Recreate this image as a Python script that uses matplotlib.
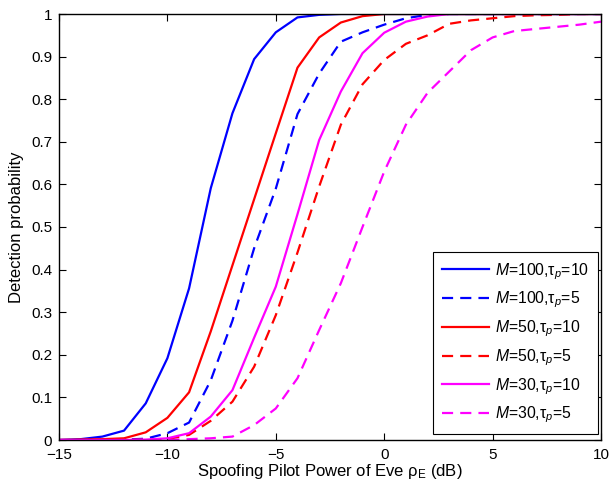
import matplotlib
matplotlib.use("Agg")
import matplotlib.pyplot as plt

plt.rcParams['font.family'] = ['Liberation Sans', 'DejaVu Sans']
plt.rcParams['mathtext.fontset'] = 'custom'
plt.rcParams['mathtext.rm'] = 'Liberation Sans'
plt.rcParams['mathtext.it'] = 'Liberation Sans:italic'

snr_db = list(range(-15, 11))

m100_t10 = [0, 0.002, 0.008, 0.022, 0.086, 0.192, 0.356, 0.591, 0.767, 0.894, 0.957, 0.992, 0.998,
            1, 1, 1, 1, 1, 1, 1, 1, 1, 1, 1, 1, 1]
m100_t5 = [0, 0, 0, 0.001, 0.003, 0.016, 0.041, 0.14, 0.28, 0.45, 0.59, 0.765, 0.86, 0.935,
           0.957, 0.975, 0.99, 0.998, 1, 1, 1, 1, 1, 1, 1, 1]
m50_t10 = [0, 0.001, 0.002, 0.004, 0.018, 0.052, 0.112, 0.255, 0.41, 0.565, 0.72, 0.874, 0.945,
           0.98, 0.995, 1, 1, 1, 1, 1, 1, 1, 1, 1, 1, 1]
m50_t5 = [0, 0, 0, 0, 0.001, 0.002, 0.012, 0.045, 0.09, 0.172, 0.293, 0.44, 0.595, 0.74, 0.835,
          0.892, 0.93, 0.95, 0.977, 0.985, 0.99, 0.995, 0.997, 0.998, 1, 1]
m30_t10 = [0, 0, 0, 0, 0.001, 0.004, 0.016, 0.055, 0.117, 0.24, 0.36, 0.53, 0.704, 0.818, 0.908,
           0.956, 0.982, 0.994, 1, 1, 1, 1, 1, 1, 1, 1]
m30_t5 = [0, 0, 0, 0, 0, 0, 0.002, 0.004, 0.008, 0.035, 0.074, 0.145, 0.258, 0.368, 0.50, 0.63,
          0.74, 0.815, 0.865, 0.915, 0.945, 0.96, 0.965, 0.97, 0.975, 0.982]

series = [
    (m100_t10, 'blue', '-', r'$M$=100,$\mathrm{\tau}_p$=10'),
    (m100_t5, 'blue', '--', r'$M$=100,$\mathrm{\tau}_p$=5'),
    (m50_t10, 'red', '-', r'$M$=50,$\mathrm{\tau}_p$=10'),
    (m50_t5, 'red', '--', r'$M$=50,$\mathrm{\tau}_p$=5'),
    (m30_t10, 'magenta', '-', r'$M$=30,$\mathrm{\tau}_p$=10'),
    (m30_t5, 'magenta', '--', r'$M$=30,$\mathrm{\tau}_p$=5'),
]

fig = plt.figure(figsize=(6.11, 4.87), dpi=100)
ax = fig.add_axes([59/611, 47/487, 542/611, 426/487])

for y, c, ls, lab in series:
    if ls == '--':
        ax.plot(snr_db, y, color=c, linestyle='--', linewidth=1.6, label=lab, dashes=(5, 3.2))
    else:
        ax.plot(snr_db, y, color=c, linestyle='-', linewidth=1.6, label=lab)

ax.set_xlim(-15, 10)
ax.set_ylim(0, 1)
ax.set_xticks([-15, -10, -5, 0, 5, 10])
ax.set_yticks([0, 0.1, 0.2, 0.3, 0.4, 0.5, 0.6, 0.7, 0.8, 0.9, 1])
ax.set_yticklabels(['0', '0.1', '0.2', '0.3', '0.4', '0.5', '0.6', '0.7', '0.8', '0.9', '1'])
ax.tick_params(direction='in', top=True, right=True, labelsize=11, length=5, width=0.8)
ax.tick_params(axis='x', pad=6)
ax.tick_params(axis='y', pad=5)
for s in ax.spines.values():
    s.set_linewidth(1.0)
ax.set_xlabel(r'Spoofing Pilot Power of Eve $\mathrm{\rho_E}$ (dB)', fontsize=12, labelpad=0)
ax.set_ylabel('Detection probability', fontsize=12, labelpad=5)

leg = ax.legend(loc='lower right', bbox_to_anchor=(0.9945, 0.0141), fontsize=11.3,
                frameon=True, fancybox=False, edgecolor='black', framealpha=1,
                handlelength=3.0, labelspacing=0.52, borderaxespad=0.0,
                handletextpad=0.4, borderpad=0.55)
leg.get_frame().set_linewidth(0.8)

fig.savefig('out.png', dpi=100)
